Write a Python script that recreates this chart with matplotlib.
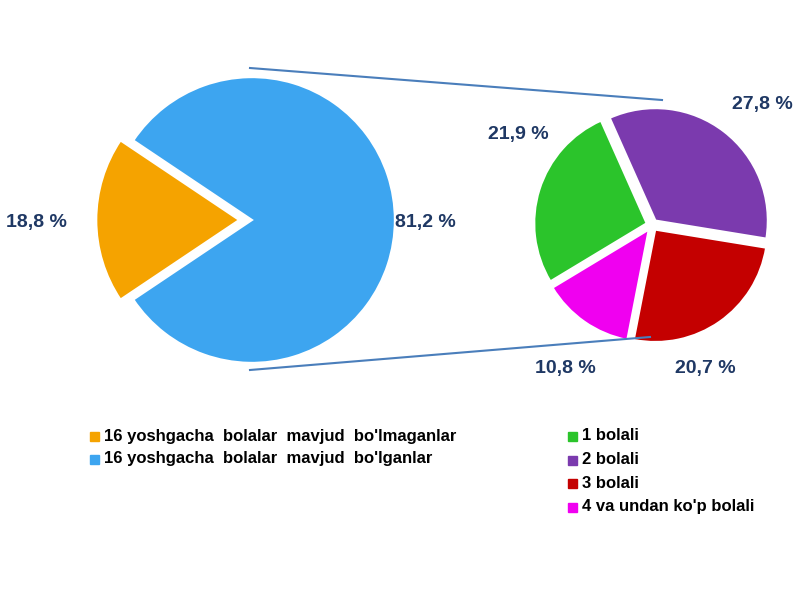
import matplotlib
matplotlib.use("Agg")
import matplotlib.pyplot as plt
from matplotlib.lines import Line2D
from matplotlib.patches import Rectangle

plt.rcParams['font.family'] = ['Liberation Sans', 'DejaVu Sans']

main_labels = ["16 yoshgacha  bolalar  mavjud  bo'lmaganlar", "16 yoshgacha  bolalar  mavjud  bo'lganlar"]
main_values = [18.8, 81.2]
main_colors = ["#F5A300", "#3DA5F0"]
sub_labels = ["1 bolali", "2 bolali", "3 bolali", "4 va undan ko'p bolali"]
sub_values = [21.9, 27.8, 20.7, 10.8]
sub_colors = ["#2BC42B", "#7B3AAE", "#C40000", "#F000F0"]

W, H = 800, 600
fig = plt.figure(figsize=(8, 6), dpi=100)
def ax_at(cx, cy, r):
    return fig.add_axes([(cx - r) / W, (H - cy - r) / H, 2 * r / W, 2 * r / H])

ax1 = ax_at(252, 220, 150)
ax1.pie(main_values, colors=main_colors, startangle=180 - 18.8 * 1.8, explode=[0.09, 0],
        wedgeprops=dict(edgecolor="white", linewidth=1.5))
ax1.set_xlim(-1.05, 1.05); ax1.set_ylim(-1.05, 1.05); ax1.axis("off")

order = [0, 3, 2, 1]
ax2 = ax_at(652, 225, 118)
ax2.pie([sub_values[i] for i in order], colors=[sub_colors[i] for i in order],
        startangle=114, counterclock=True,
        explode=[0.05] * 4, wedgeprops=dict(edgecolor="white", linewidth=1.5))
ax2.set_xlim(-1.05, 1.05); ax2.set_ylim(-1.05, 1.05); ax2.axis("off")

for (x1, y1, x2, y2) in [(250, 68, 662, 100), (250, 370, 650, 337)]:
    fig.add_artist(Line2D([x1 / W, x2 / W], [1 - y1 / H, 1 - y2 / H], color="#4A7EBB", lw=1.5))

lc = "#1F3864"
for txt, x, y in [("18,8 %", 36, 222), ("81,2 %", 425, 222), ("21,9 %", 518, 135),
                  ("27,8 %", 762, 105), ("10,8 %", 565, 368), ("20,7 %", 705, 368)]:
    fig.text(x / W, 1 - y / H, txt, ha="center", va="center", fontsize=14,
             fontweight="bold", color=lc)

def legend(items, colors, x, y0, dy):
    for i, (t, c) in enumerate(zip(items, colors)):
        y = y0 + i * dy
        fig.add_artist(Rectangle(((x - 14) / W, 1 - (y + 5) / H), 9 / W, 9 / H, color=c))
        fig.text(x / W, 1 - y / H, t, ha="left", va="center", fontsize=12,
                 fontweight="bold", color="black")

legend(main_labels, main_colors, 104, 436, 23)
legend(sub_labels, sub_colors, 582, 436, 23.5)

fig.savefig("out.png")
